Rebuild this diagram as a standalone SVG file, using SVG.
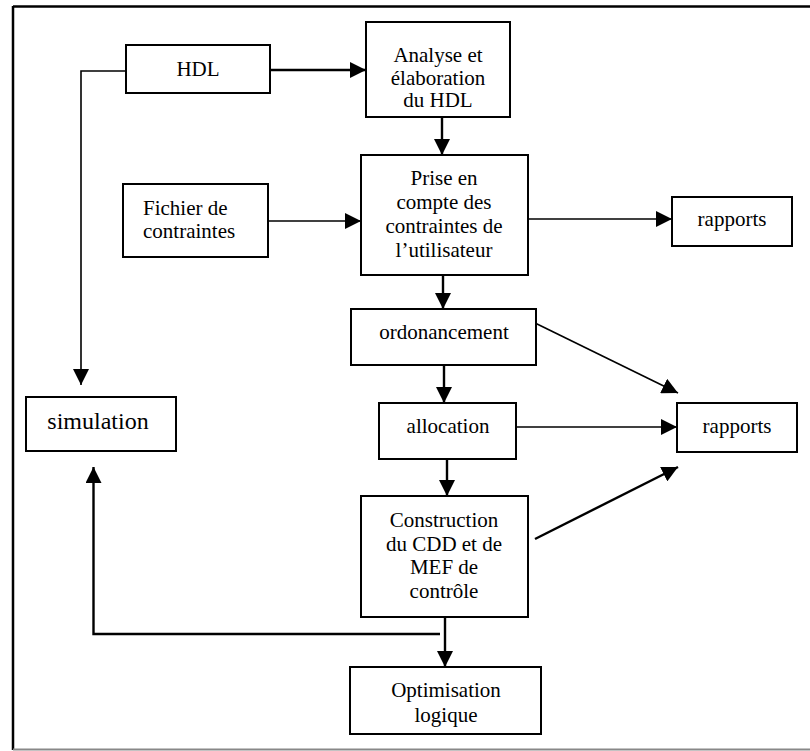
<svg xmlns="http://www.w3.org/2000/svg" width="810" height="751" viewBox="0 0 810 751">
  <style>
    .box { fill: #fff; stroke: #000; stroke-width: 2; }
    .lbl { font-family: "Liberation Serif", "Times New Roman", serif; font-size: 21px; fill: #000; text-anchor: middle; }
    .left { text-anchor: start; }
    .big { font-size: 24px; }
    .edge { fill: none; stroke: #000; stroke-width: 1.6; }
    .heavy { stroke-width: 2.4; }
  </style>
  <defs>
    <marker id="arrow" markerUnits="userSpaceOnUse" markerWidth="16" markerHeight="16" refX="16" refY="8" orient="auto">
      <path d="M0,0 L16,8 L0,16 z" fill="#000"/>
    </marker>
  </defs>

  <rect width="810" height="751" fill="#fff"/>

  <!-- page frame -->
  <g id="frame">
    <line x1="13" y1="6.5" x2="810" y2="6.5" stroke="#000" stroke-width="2.5"/>
    <line x1="13" y1="6" x2="13" y2="750" stroke="#000" stroke-width="2.5"/>
    <line x1="13" y1="749.5" x2="810" y2="749.5" stroke="#888" stroke-width="2"/>
  </g>

  <!-- connectors -->
  <g id="connectors">
    <line class="edge heavy" x1="270" y1="70" x2="366" y2="70" marker-end="url(#arrow)"/>
    <polyline class="edge" points="129,71 81,71 81,385" marker-end="url(#arrow)"/>
    <line class="edge heavy" x1="442" y1="117" x2="442" y2="155" marker-end="url(#arrow)"/>
    <line class="edge" x1="268" y1="221" x2="361" y2="221" marker-end="url(#arrow)"/>
    <line class="edge" x1="528" y1="219" x2="672" y2="219" marker-end="url(#arrow)"/>
    <line class="edge heavy" x1="443" y1="275" x2="443" y2="309" marker-end="url(#arrow)"/>
    <line class="edge" x1="533" y1="322" x2="678" y2="393" marker-end="url(#arrow)"/>
    <line class="edge heavy" x1="444" y1="365" x2="444" y2="403" marker-end="url(#arrow)"/>
    <line class="edge" x1="516" y1="427" x2="677" y2="427" marker-end="url(#arrow)"/>
    <line class="edge heavy" x1="447" y1="459" x2="447" y2="496" marker-end="url(#arrow)"/>
    <line class="edge heavy" x1="535" y1="539" x2="678" y2="467" marker-end="url(#arrow)"/>
    <line class="edge heavy" x1="445" y1="617" x2="445" y2="667" marker-end="url(#arrow)"/>
    <polyline class="edge heavy" points="440,634 93.5,634 93.5,467" marker-end="url(#arrow)"/>
  </g>

  <g id="hdl">
    <rect class="box" x="126" y="45" width="144" height="48"/>
    <text class="lbl" x="198" y="76">HDL</text>
  </g>

  <g id="analyse">
    <rect class="box" x="366" y="22" width="144" height="95"/>
    <text class="lbl" x="438" y="62">Analyse et</text>
    <text class="lbl" x="438" y="85">élaboration</text>
    <text class="lbl" x="438" y="107">du HDL</text>
  </g>

  <g id="fichier">
    <rect class="box" x="123" y="184" width="145" height="73"/>
    <text class="lbl left" x="143" y="215">Fichier de</text>
    <text class="lbl left" x="143" y="238">contraintes</text>
  </g>

  <g id="prise">
    <rect class="box" x="361" y="155" width="167" height="120"/>
    <text class="lbl" x="444" y="185">Prise en</text>
    <text class="lbl" x="444" y="209">compte des</text>
    <text class="lbl" x="444" y="233">contraintes de</text>
    <text class="lbl" x="444" y="257">l’utilisateur</text>
  </g>

  <g id="rapports1">
    <rect class="box" x="672" y="197" width="120" height="49"/>
    <text class="lbl" x="732" y="226">rapports</text>
  </g>

  <g id="ordonancement">
    <rect class="box" x="351" y="309" width="185" height="56"/>
    <text class="lbl" x="444" y="339">ordonancement</text>
  </g>

  <g id="simulation">
    <rect class="box" x="26" y="397" width="150" height="54"/>
    <text class="lbl big" x="98" y="429">simulation</text>
  </g>

  <g id="allocation">
    <rect class="box" x="379" y="403" width="137" height="56"/>
    <text class="lbl" x="448" y="433">allocation</text>
  </g>

  <g id="rapports2">
    <rect class="box" x="677" y="403" width="120" height="49"/>
    <text class="lbl" x="737" y="433">rapports</text>
  </g>

  <g id="construction">
    <rect class="box" x="361" y="496" width="167" height="121"/>
    <text class="lbl" x="444" y="527">Construction</text>
    <text class="lbl" x="444" y="551">du CDD et de</text>
    <text class="lbl" x="444" y="574">MEF de</text>
    <text class="lbl" x="444" y="598">contrôle</text>
  </g>

  <g id="optimisation">
    <rect class="box" x="350" y="667" width="191" height="67"/>
    <text class="lbl" x="446" y="697">Optimisation</text>
    <text class="lbl" x="446" y="722">logique</text>
  </g>
</svg>
